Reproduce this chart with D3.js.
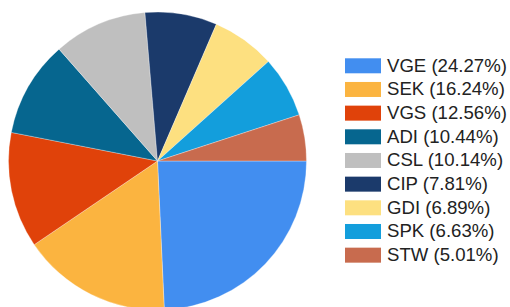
<!DOCTYPE html>
<html><head><meta charset="utf-8">
<script src="https://cdn.jsdelivr.net/npm/d3@7"></script>
<style>body{margin:0;background:#fff;}svg{display:block;}</style>
</head><body>
<svg id="c" width="510" height="307"></svg>
<script>
const categories = ["VGE","SEK","VGS","ADI","CSL","CIP","GDI","SPK","STW"];
const values = [24.27,16.24,12.56,10.44,10.14,7.81,6.89,6.63,5.01];
const colors = ["#428ef0","#fbb440","#e0420a","#06668f","#bfbfbf","#1b3a6b","#fde080","#139edc","#c86b4e"];

const svg = d3.select("#c");
const cx = 157.5, cy = 161, r = 149;
const data = categories.map((c,i)=>({name:c, value:values[i], color:colors[i]}));
const pie = d3.pie().value(d=>d.value).sort(null).startAngle(Math.PI/2).endAngle(Math.PI/2 + 2*Math.PI);
const arc = d3.arc().innerRadius(0).outerRadius(r);
const g = svg.append("g").attr("transform",`translate(${cx},${cy})`);
g.selectAll("path").data(pie(data)).join("path")
  .attr("d",arc).attr("fill",d=>d.data.color)
  .attr("stroke","#ffffff").attr("stroke-width",0.5).attr("stroke-opacity",0.6);

const y = d3.scaleBand().domain(categories).range([58.3-4.25, 58.3-4.25+9*23.67]);
const lg = svg.append("g");
const items = lg.selectAll("g").data(data).join("g")
  .attr("transform",d=>`translate(345,${y(d.name)+4.25})`);
items.append("rect").attr("width",36).attr("height",15).attr("fill",d=>d.color);
items.append("text").attr("x",42).attr("y",13.3)
  .attr("font-family","Liberation Sans, Arial, sans-serif").attr("font-size",18.6)
  .attr("fill","#222")
  .text(d=>`${d.name} (${d.value.toFixed(2)}%)`);
</script>
</body></html>
